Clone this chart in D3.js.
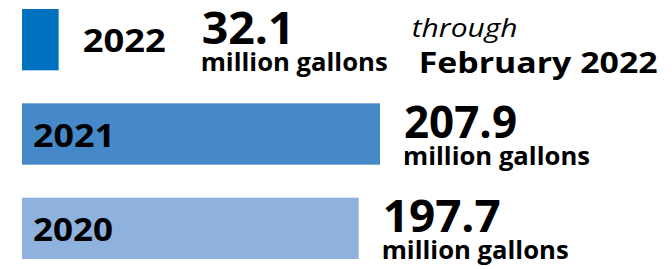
<!DOCTYPE html>
<html>
<head>
<meta charset="utf-8">
<script src="https://cdn.jsdelivr.net/npm/d3@7"></script>
<style>
  html, body { margin: 0; padding: 0; background: #ffffff; }
  svg { display: block; }
  text { font-family: "Open Sans", "Noto Sans", sans-serif; fill: #000; }
</style>
</head>
<body>
<svg id="chart" width="672" height="269"></svg>
<script>
// ---- data ----
const years = ["2022", "2021", "2020"];
const values = [32.1, 207.9, 197.7];
const valueLabels = ["32.1", "207.9", "197.7"];
const unitLabel = "million gallons";
const noteLines = ["through", "February 2022"];

// ---- styles ----
const barColors = ["#0070C0", "#4589C8", "#8FB1DD"];
const left = 22;

const svg = d3.select("#chart");

const x = d3.scalePow().exponent(1.22)
  .domain([0, d3.max(values)])
  .range([0, 358]);

const y = d3.scaleBand()
  .domain(years)
  .range([9, 259])
  .paddingInner(0.35)
  .paddingOuter(0);

const rows = years.map((yr, i) => ({ year: yr, value: values[i], label: valueLabels[i], color: barColors[i] }));

const g = svg.append("g");

g.selectAll("rect.bar")
  .data(rows)
  .join("rect")
  .attr("class", "bar")
  .attr("x", left)
  .attr("y", d => y(d.year))
  .attr("width", d => x(d.value))
  .attr("height", y.bandwidth())
  .attr("fill", d => d.color);

// per-row text widths (measured from reference)
const yearW = { "2022": 83, "2021": 82, "2020": 80 };
const valW = { "2022": 93, "2021": 113, "2020": 118 };

rows.forEach(d => {
  const top = y(d.year);
  const bw = x(d.value);
  const mid = top + y.bandwidth() / 2;
  const inside = bw > 120;
  let yearX, valX;
  if (inside) {
    yearX = left + 11;
    valX = left + bw + 24;
  } else {
    yearX = left + bw + 24;
    valX = yearX + yearW[d.year] + 36;
  }
  g.append("text")
    .attr("x", yearX)
    .attr("y", mid + 12.5)
    .attr("font-size", 32)
    .attr("font-weight", 700)
    .attr("textLength", yearW[d.year])
    .attr("lengthAdjust", "spacingAndGlyphs")
    .text(d.year);

  g.append("text")
    .attr("x", valX)
    .attr("y", top + 34.5)
    .attr("font-size", 44)
    .attr("font-weight", 700)
    .attr("textLength", valW[d.year])
    .attr("lengthAdjust", "spacingAndGlyphs")
    .text(d.label);

  g.append("text")
    .attr("x", valX - 1)
    .attr("y", top + 61.5)
    .attr("font-size", 25)
    .attr("font-weight", 700)
    .attr("textLength", 187)
    .attr("lengthAdjust", "spacingAndGlyphs")
    .text(unitLabel);

  if (d.year === "2022") {
    g.append("text")
      .attr("x", valX + 210)
      .attr("y", top + 28)
      .attr("font-size", 25)
      .attr("font-style", "italic")
      .attr("font-weight", 400)
      .attr("textLength", 106)
      .attr("lengthAdjust", "spacingAndGlyphs")
      .text(noteLines[0]);
    g.append("text")
      .attr("x", valX + 217)
      .attr("y", top + 64)
      .attr("font-size", 28)
      .attr("font-weight", 700)
      .attr("textLength", 239)
      .attr("lengthAdjust", "spacingAndGlyphs")
      .text(noteLines[1]);
  }
});
</script>
</body>
</html>
